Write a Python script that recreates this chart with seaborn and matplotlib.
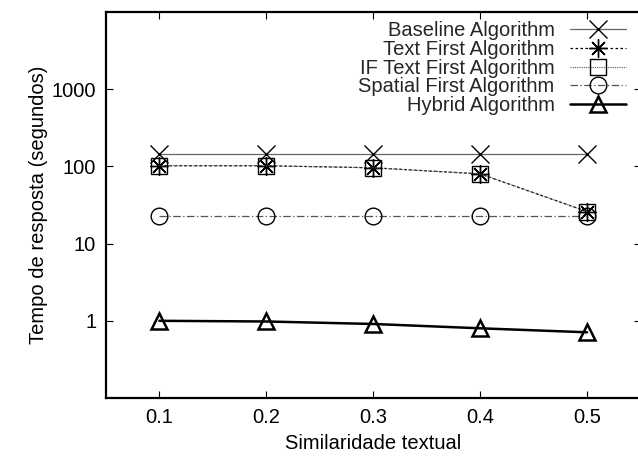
import pandas as pd
import seaborn as sns
import matplotlib.pyplot as plt
from matplotlib.ticker import FixedLocator, NullLocator

# data
similarity = [0.1, 0.2, 0.3, 0.4, 0.5]
baseline = [145, 145, 145, 145, 145]
text_first = [102, 102, 96, 80, 26]
if_text_first = [102, 102, 96, 80, 26]
spatial_first = [23, 23, 23, 23, 23]
hybrid = [1.0, 0.98, 0.91, 0.80, 0.71]

labels = ['Baseline Algorithm', 'Text First Algorithm', 'IF Text First Algorithm',
          'Spatial First Algorithm', 'Hybrid Algorithm']
series = [baseline, text_first, if_text_first, spatial_first, hybrid]

sns.set_theme(style='ticks')
plt.rcParams['font.family'] = ['Liberation Sans', 'DejaVu Sans']

fig = plt.figure(figsize=(6.38, 4.62), dpi=100)
ax = fig.add_axes([0.166, 0.1385, 0.838, 0.8355])

# line color, linestyle, linewidth, marker, markersize, marker edge width
styles = [
    ('#666666', '-', 0.9, 'x', 13, 1.0),
    ('black', (0, (2, 2)), 0.9, (8, 2, 0), 13, 1.0),
    ('#555555', (0, (1, 1)), 0.8, 's', 12, 1.0),
    ('#555555', (0, (6, 2, 1, 2)), 0.9, 'o', 12, 1.0),
    ('black', '-', 1.8, '^', 12, 1.8),
]

for lab, vals, st in zip(labels, series, styles):
    df = pd.DataFrame({'x': similarity, 'y': vals})
    color, ls, lw, mk, ms, mew = st
    sns.lineplot(data=df, x='x', y='y', ax=ax, label=lab, color=color,
                 linestyle=ls, linewidth=lw, marker=mk, markersize=ms,
                 markeredgewidth=mew, markeredgecolor='black',
                 markerfacecolor='none')

ax.set_yscale('log')
ax.set_xlim(0.05, 0.55)
ax.set_ylim(0.1, 10000)
ax.yaxis.set_major_locator(FixedLocator([1, 10, 100, 1000]))
ax.yaxis.set_minor_locator(NullLocator())
ax.set_yticklabels(['1', '10', '100', '1000'])
ax.set_xticks(similarity)
ax.set_xticklabels(['0.1', '0.2', '0.3', '0.4', '0.5'])
ax.tick_params(direction='in', length=5, width=0.8, labelsize=14.5, pad=7,
               top=True, right=True, color='black', labelcolor='black')

for sp in ax.spines.values():
    sp.set_linewidth(1.6)
    sp.set_color('black')

ax.set_xlabel('Similaridade textual', fontsize=14.5, color='black', labelpad=5)
ax.set_ylabel('Tempo de resposta (segundos)', fontsize=14.5, color='black', labelpad=3)

ax.legend(loc='upper right', bbox_to_anchor=(0.99, 1.0), frameon=False,
          markerfirst=False, fontsize=14.5, labelspacing=-0.01, handlelength=2.8,
          handletextpad=0.75, borderaxespad=0.05)

fig.savefig('out.png', dpi=100)
